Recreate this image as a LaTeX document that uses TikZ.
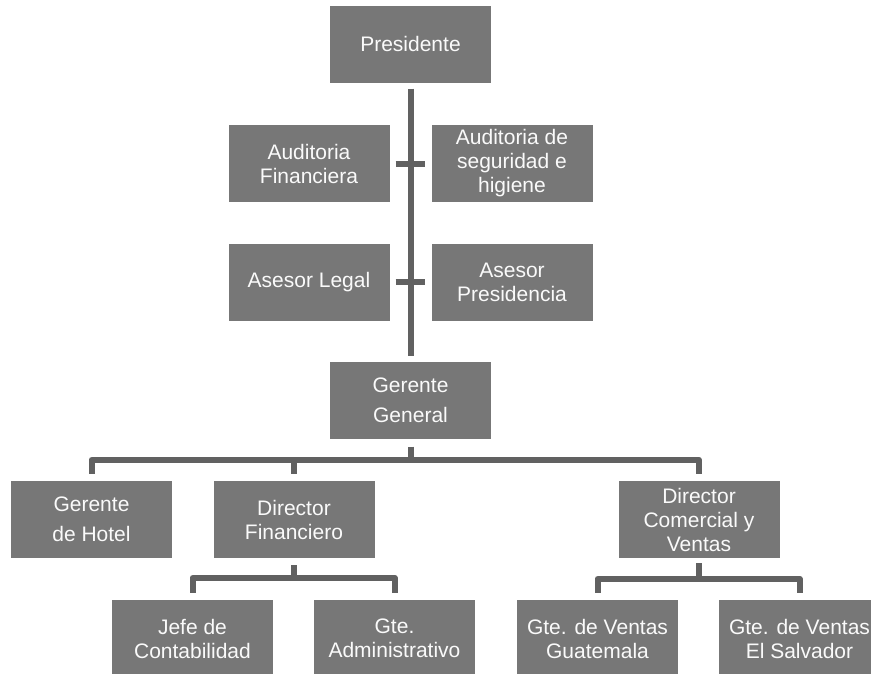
\documentclass[tikz,border=0pt]{standalone}
\usepackage{fontspec}
\setmainfont{Liberation Sans}
\definecolor{boxgray}{HTML}{777777}
\definecolor{linegray}{HTML}{616161}
\definecolor{txtwhite}{HTML}{FAFAFA}
\begin{document}
\begin{tikzpicture}[x=1pt,y=-1pt,
  orgbox/.style={fill=boxgray,draw=none,minimum width=161pt,minimum height=77pt,
    inner sep=0pt,align=center,text=txtwhite,
    font=\fontsize{21}{24}\selectfont},
  loosebox/.style={orgbox,font=\fontsize{21}{30}\selectfont},
  conn/.style={draw=linegray,line width=6pt,line join=round}]
\clip (0,0) rectangle (871,673);
\useasboundingbox (0,0) rectangle (871,673);
\node[orgbox] (pres) at (410.5,44) {Presidente};
\node[orgbox] (af) at (309,163.5) {Auditoria\\Financiera};
\node[orgbox] (as) at (512,163.5) {Auditoria de\\seguridad e\\higiene};
\node[orgbox] (al) at (309,282) {Asesor Legal};
\node[orgbox] (ap) at (512,282) {Asesor\\Presidencia};
\node[loosebox] (gg) at (410.5,400) {Gerente\\General};
\node[loosebox] (gh) at (91.5,519.5) {Gerente\\de Hotel};
\node[orgbox] (df) at (294,519.5) {Director\\Financiero};
\node[orgbox] (dcv) at (699,519.5) {Director\\Comercial y\\Ventas};
\node[orgbox] (jc) at (192.5,638.5) {Jefe de\\Contabilidad};
\node[orgbox] (ga) at (394.5,638.5) {Gte.\\Administrativo};
\node[orgbox] (gvg) at (597.5,638.5) {Gte. de Ventas\\Guatemala};
\node[orgbox] (gvs) at (799.5,638.5) {Gte. de Ventas\\El Salvador};
% main vertical
\draw[conn,shorten <=6pt,shorten >=5pt] (pres.south) -- (gg.north);
\draw[conn,shorten <=6pt,shorten >=6pt] (af.east) -- (as.west);
\draw[conn,shorten <=6pt,shorten >=6pt] (al.east) -- (ap.west);
% gerente general
\coordinate (ggtop) at ([yshift=-8pt]gg.south);
\draw[conn] (ggtop) -- ++(0,13);
\draw[conn] ([yshift=7pt]gh.north) -- ++(0,-14) -| ([yshift=7pt]dcv.north);
\draw[conn] ([yshift=7pt]df.north) -- ++(0,-14);
% director financiero
\draw[conn] ([yshift=-7pt]df.south) -- ++(0,13);
\draw[conn] ([yshift=7pt]jc.north) -- ++(0,-15) -| ([yshift=7pt]ga.north);
% director comercial
\draw[conn] ([yshift=-5pt]dcv.south) -- ++(0,16);
\draw[conn] ([yshift=7pt]gvg.north) -- ++(0,-14) -| ([yshift=7pt]gvs.north);
\end{tikzpicture}
\end{document}
